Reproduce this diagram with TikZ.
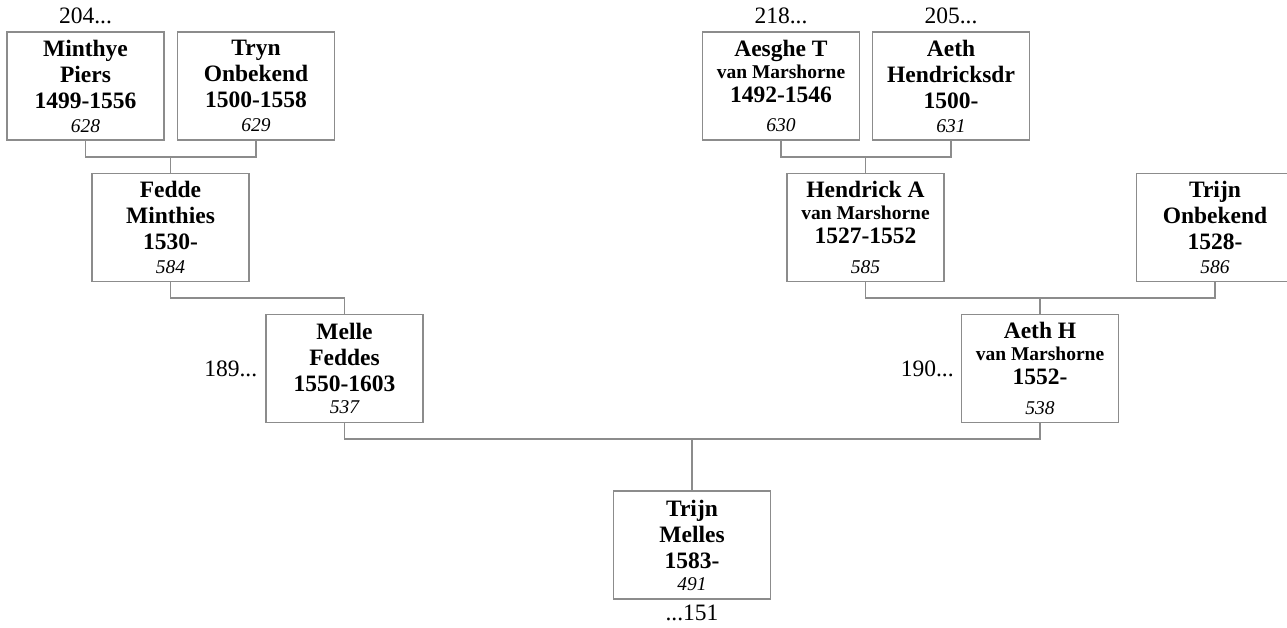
\documentclass[tikz,border=0pt]{standalone}
\usepackage{fontspec}
\setmainfont{Liberation Serif}
\usepackage{xcolor}
\usepackage{tikz}
\usetikzlibrary{positioning}
\definecolor{boxgray}{HTML}{8C8C8C}
\definecolor{linegray}{HTML}{8C8C8C}
\newcommand{\refno}[1]{{\mdseries\itshape\fontsize{19.5}{20}\selectfont #1}}
\newcommand{\famname}[1]{{\fontsize{19.5}{20}\selectfont #1}}
\tikzset{
  person/.style={draw=boxgray, line width=1.2pt, minimum width=157pt, minimum height=108pt,
                 inner sep=0pt, align=center, font=\fontsize{23.5}{26}\selectfont\bfseries},
  lbl/.style={inner sep=0pt, font=\fontsize{23.5}{26}\selectfont},
  link/.style={draw=linegray, line width=1.2pt}
}
\begin{document}
\begin{tikzpicture}[x=1pt,y=1pt]
        \useasboundingbox (0,0) rectangle (1287,-628);

        \node[person] (p628) at (85.5,-86) {Minthye\\Piers\\1499-1556\\[-2pt]\refno{628}};
        \node[person] (p629) at (256,-86) {Tryn\\Onbekend\\1500-1558\\[-2pt]\refno{629}};
        \node[person] (p630) at (781,-86) {Aesghe T\\[-4pt]\famname{van Marshorne}\\[-2pt]1492-1546\\[3.5pt]\refno{630}};
        \node[person] (p631) at (951,-86) {Aeth\\Hendricksdr\\1500-\\[-2pt]\refno{631}};

        \node[person] (p584) at (170.5,-227.5) {Fedde\\Minthies\\1530-\\[-2pt]\refno{584}};
        \node[person] (p585) at (865.5,-227.5) {Hendrick A\\[-4pt]\famname{van Marshorne}\\[-2pt]1527-1552\\[3.5pt]\refno{585}};
        \node[person] (p586) at (1215,-227.5) {Trijn\\Onbekend\\1528-\\[-2pt]\refno{586}};

        \node[person] (p537) at (344.5,-368.5) {Melle\\Feddes\\1550-1603\\[-4pt]\refno{537}};
        \node[person] (p538) at (1040,-368.5) {Aeth H\\[-4pt]\famname{van Marshorne}\\[-2pt]1552-\\[3.5pt]\refno{538}};

        \node[person] (p491) at (692,-545) {Trijn\\Melles\\1583-\\[-4pt]\refno{491}};

        \node[lbl, above=7pt of p628] (l204) {204...};
        \node[lbl, above=7pt of p630] (l218) {218...};
        \node[lbl, above=7pt of p631] (l205) {205...};
        \node[lbl, left=8pt of p537] (l189) {189...};
        \node[lbl, left=7pt of p538] (l190) {190...};
        \node[lbl, below=5pt of p491] (l151) {...151};

        \coordinate (j1) at (170.5,-157);
        \coordinate (j2) at (344.5,-298);
        \coordinate (j3) at (865.5,-157);
        \coordinate (j4) at (1040,-298);
        \coordinate (j5) at (692,-439);

        \draw[link] (p628.south) |- (j1) -| (p629.south);
        \draw[link] (j1) -- (p584.north);
        \draw[link] (p584.south) |- (j2) -- (p537.north);
        \draw[link] (p630.south) |- (j3) -| (p631.south);
        \draw[link] (j3) -- (p585.north);
        \draw[link] (p585.south) |- (j4) -| (p586.south);
        \draw[link] (j4) -- (p538.north);
        \draw[link] (p537.south) |- (j5) -| (p538.south);
        \draw[link] (j5) -- (p491.north);
    \end{tikzpicture}
\end{document}
